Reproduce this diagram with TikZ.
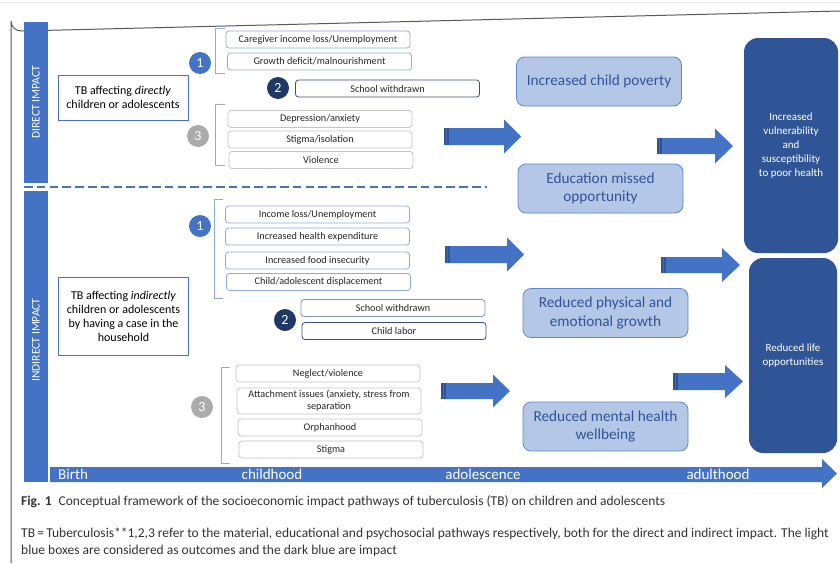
\documentclass[tikz,border=0pt]{standalone}
\usepackage{fontspec}
\setmainfont{Carlito}
\newfontfamily\capfont{Carlito}
\definecolor{mblue}{HTML}{4472C4}
\definecolor{dblue}{HTML}{2F5597}
\definecolor{navy}{HTML}{1F3864}
\definecolor{lfill}{HTML}{B4C7E7}
\definecolor{lborder}{HTML}{8FAADC}
\definecolor{gborder}{HTML}{C4C4C4}
\definecolor{circgray}{HTML}{ABABAB}
\definecolor{nborder}{HTML}{3B4E7A}
\definecolor{sborder}{HTML}{8497B0}
\definecolor{btext}{HTML}{262626}
\newcommand\barrow[6]{%
  \fill[mblue] (#1,#4-#5) -- (#2,#4-#5) -- (#2,#4-#6) -- (#3,#4) -- (#2,#4+#6) -- (#2,#4+#5) -- (#1,#4+#5) -- cycle;
  \fill[dblue] (#1,#4-#5) rectangle (#1+5,#4+#5);
  \draw[mblue!70!dblue, line width=0.6pt] (#1+2.5,#4-#5) -- (#1+2.5,#4+#5);
}
\begin{document}
\begin{tikzpicture}[x=1pt,y=-1pt,
  sbox/.style={draw=#1, rounded corners=3pt, fill=white, line width=0.8pt,
    minimum width=184pt, minimum height=17pt, inner sep=0pt,
    font=\fontsize{10.2}{12}\selectfont, text=btext, align=center},
  tbbox/.style={draw=mblue, line width=0.8pt, fill=white, minimum width=130pt,
    inner sep=0pt, font=\fontsize{12}{14}\selectfont, align=center, text=black},
  outbox/.style={draw=mblue!85!white, fill=lfill, rounded corners=8pt, line width=0.8pt,
    minimum width=165pt, minimum height=49pt, inner sep=0pt, text=dblue,
    font=\fontsize{15.3}{18.5}\selectfont, align=center},
  impbox/.style={fill=dblue, rounded corners=14pt, inner sep=0pt, text=white,
    font=\fontsize{11}{14.2}\selectfont, align=center},
  numcirc/.style={circle, fill=#1, minimum size=22pt, inner sep=0pt, text=white,
    font=\fontsize{14}{14}\selectfont},
  brack/.style={draw=lborder, line width=0.9pt},
  vbar/.style={fill=mblue},
  vlabel/.style={text=white, rotate=90, font=\fontsize{11.6}{12}\selectfont},
  tlabel/.style={text=white, font=\fontsize{15}{15}\selectfont, inner sep=0pt},
  caption/.style={anchor=west, inner sep=0pt, text=black!80, font=\capfont\fontsize{13.5}{15}\selectfont},
]
\useasboundingbox (0,0) rectangle (840,563);
\fill[white] (0,0) rectangle (840,563);
% outer frame
\draw[black!8, line width=1pt] (0,2.5) -- (840,2.5);
\draw[black!65, line width=1pt] (11,563) -- (11,21) arc[start angle=180, end angle=90, radius=10] -- (840,11);

% side bars
\fill[vbar] (24,22) rectangle (48,183);
\fill[vbar] (24,191) rectangle (48,482);
\node[vlabel] (dlab) at (36,102) {DIRECT IMPACT};
\node[vlabel] (ilab) at (36,340) {INDIRECT IMPACT};
\draw[mblue, line width=2.6pt, dash pattern=on 8.5pt off 4.3pt] (24,187) -- (487,187);

% timeline
\fill[mblue] (50,467) -- (822,467) -- (822,459) -- (837,473.5) -- (822,488) -- (822,482) -- (50,482) -- cycle;
\node[tlabel, anchor=west] (tbirth) at (58,474) {Birth};
\node[tlabel] (tchild) at (272,474) {childhood};
\node[tlabel] (tadol) at (483,474) {adolescence};
\node[tlabel] (tadult) at (718,474) {adulthood};

% TB boxes
\node[tbbox, minimum height=45pt] (dtb) at (123,97.5) {TB affecting \textit{directly}\\children or adolescents};
\node[tbbox, minimum height=78pt] (itb) at (123.5,316) {TB affecting \textit{indirectly}\\children or adolescents\\by having a case in the\\household};

% brackets
\draw[brack] (225,28) -- (215,28) -- (215,73) -- (225,73);
\draw[brack] (225,104) -- (215,104) -- (215,165) -- (225,165);
\draw[brack] (223,199) -- (214,199) -- (214,298) -- (223,298);
\draw[brack] (230,367) -- (221,367) -- (221,463) -- (230,463);

% number circles
\node[numcirc=mblue] (dc1) at (200,63) {1};
\node[numcirc=navy] (dc2) at (278,88) {2};
\node[numcirc=circgray] (dc3) at (198,136) {3};
\node[numcirc=mblue] (ic1) at (200,226) {1};
\node[numcirc=navy] (ic2) at (285,320) {2};
\node[numcirc=circgray] (ic3) at (202,407) {3};

% direct small boxes
\node[sbox=lborder] (dcg) at (318,39.5) {Caregiver income loss/Unemployment};
\node[sbox=lborder] (dgd) at (319.5,61.5) {Growth deficit/malnourishment};
\node[sbox=nborder] (dsw) at (387.5,88.5) {School withdrawn};
\node[sbox=gborder] (ddep) at (320,119) {Depression/anxiety};
\node[sbox=gborder] (dsti) at (320,139.5) {Stigma/isolation};
\node[sbox=gborder] (dvio) at (321,160) {Violence};

% indirect small boxes
\node[sbox=lborder] (iinc) at (317.5,214.5) {Income loss/Unemployment};
\node[sbox=lborder] (ihe) at (317.5,236.5) {Increased health expenditure};
\node[sbox=lborder] (ifood) at (317.5,260.5) {Increased food insecurity};
\node[sbox=lborder] (idisp) at (318.5,282) {Child/adolescent displacement};
\node[sbox=sborder] (isw) at (393,308) {School withdrawn};
\node[sbox=nborder] (icl) at (394,331) {Child labor};
\node[sbox=gborder] (ineg) at (328,373.5) {Neglect/violence};
\node[sbox=gborder, minimum height=26pt] (iatt) at (329,401) {Attachment issues (anxiety, stress from\\separation};
\node[sbox=gborder] (iorph) at (330,427.5) {Orphanhood};
\node[sbox=gborder] (istig) at (331,449.5) {Stigma};

% outcome boxes
\node[outbox] (o1) at (599,81.5) {Increased child poverty};
\node[outbox] (o2) at (600.5,188.5) {Education missed\\opportunity};
\node[outbox] (o3) at (605.5,313) {Reduced physical and\\emotional growth};
\node[outbox] (o4) at (605.5,426.5) {Reduced mental health\\wellbeing};

% impact boxes
\node[impbox, minimum width=94pt, minimum height=215pt] (imp1) at (791,145.5) {Increased\\vulnerability\\and\\susceptibility\\to poor health};
\node[impbox, minimum width=88pt, minimum height=195pt] (imp2) at (793,355.5) {Reduced life\\opportunities};

% block arrows
\barrow{444}{504}{521}{136.5}{8.5}{17}
\barrow{657}{715}{733}{146}{8}{17.5}
\barrow{445}{507}{524}{254.5}{8.5}{17}
\barrow{661}{722}{740}{265}{8}{17}
\barrow{441}{493}{510}{391}{8}{16.5}
\barrow{673}{725}{743}{381.5}{8.5}{16.5}

% caption
\node[caption] (cap1) at (21,502)
  {\textbf{Fig. 1}\hspace{7pt}Conceptual framework of the socioeconomic impact pathways of tuberculosis (TB) on children and adolescents};
\node[caption] (cap2) at (21,534)
  {TB\,=\,Tuberculosis**1,2,3 refer to the material, educational and psychosocial pathways respectively, both for the direct and indirect impact. The light};
\node[caption] (cap3) at (21,551)
  {blue boxes are considered as outcomes and the dark blue are impact};
\end{tikzpicture}
\end{document}
